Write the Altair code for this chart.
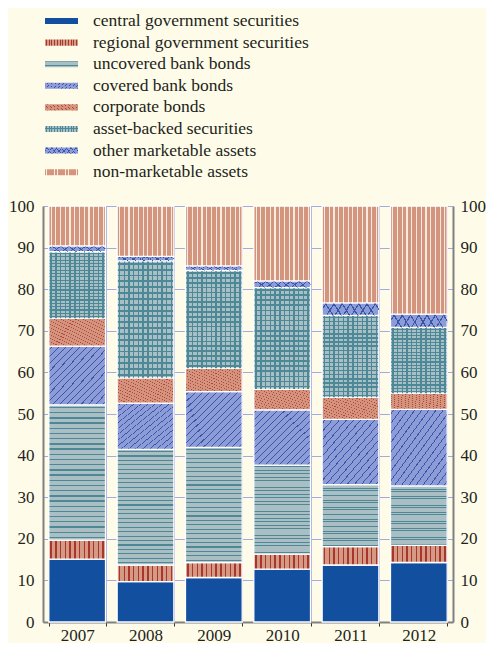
import altair as alt
import pandas as pd

years = ["2007", "2008", "2009", "2010", "2011", "2012"]
series = [
    "central government securities",
    "regional government securities",
    "uncovered bank bonds",
    "covered bank bonds",
    "corporate bonds",
    "asset-backed securities",
    "other marketable assets",
    "non-marketable assets",
]
central = [15.1, 9.7, 10.7, 12.7, 13.7, 14.3]
regional = [4.6, 4.0, 3.6, 3.6, 4.4, 4.1]
uncovered = [32.5, 27.8, 27.7, 21.4, 14.9, 14.3]
covered = [14.1, 11.1, 13.4, 13.3, 15.7, 18.4]
corporate = [6.7, 6.1, 5.6, 5.0, 5.3, 3.9]
asset_backed = [16.0, 28.1, 23.5, 24.4, 19.7, 15.8]
other = [1.4, 1.1, 1.1, 1.6, 3.0, 3.2]
non_marketable = [9.6, 12.1, 14.4, 18.0, 23.3, 26.0]
y_ticks = list(range(0, 101, 10))

values = [central, regional, uncovered, covered, corporate, asset_backed, other, non_marketable]
rows = []
for k, (name, vals) in enumerate(zip(series, values)):
    for yr, v in zip(years, vals):
        rows.append({"year": yr, "series": name, "order": k, "value": v})
df = pd.DataFrame(rows)
leg_df = pd.DataFrame({"series": series, "idx": list(range(len(series)))})

FONT = "Liberation Serif"
FS_AX = 17
FS_LEG = 17.5
TXT = "#231F20"
BG = "#FEFCE9"
GRID = "#A3AAE2"
AXIS = "#808080"
CLEAR = "rgba(0,0,0,0)"


def stripes(base, line, n, frac, x1, y1, x2, y2):
    stops = [alt.GradientStop(offset=0, color=base)]
    for i in range(n):
        a = round((i + 0.5 - frac / 2) / n, 4)
        b = round((i + 0.5 + frac / 2) / n, 4)
        stops += [
            alt.GradientStop(offset=a, color=base),
            alt.GradientStop(offset=a, color=line),
            alt.GradientStop(offset=b, color=line),
            alt.GradientStop(offset=b, color=base),
        ]
    stops.append(alt.GradientStop(offset=1, color=base))
    return alt.LinearGradient(gradient="linear", stops=stops, x1=x1, y1=y1, x2=x2, y2=y2)


fills = {
    series[0]: ["#134F9F"],
    series[1]: [stripes("#D49A85", "#A9362B", 12, 0.3, 0, 0, 1, 0)],
    series[2]: [stripes("#A9BFC4", "#4E8896", 26, 0.25, 0, 0, 0, 1)],
    series[3]: [stripes("#8D9BD6", "#3656AC", 16, 0.15, 0, 0, 1, 1)],
    series[4]: [stripes("#D4937C", "#B4463B", 16, 0.15, 0, 1, 1, 0)],
    series[5]: [stripes("#A7BFC5", "#4C8896", 20, 0.33, 0, 0, 0, 1),
                stripes(CLEAR, "#4C8896", 12, 0.3, 0, 0, 1, 0)],
    series[6]: [stripes("#8D9BD6", "#3656AC", 7, 0.16, 0, 0, 1, 0.14),
                stripes(CLEAR, "#3656AC", 7, 0.16, 0, 0.14, 1, 0)],
    series[7]: [stripes("#D4957E", "#F6EADF", 12, 0.25, 0, 0, 1, 0)],
}

x_enc = alt.X(
    "year:N",
    title=None,
    scale=alt.Scale(paddingInner=0.17, paddingOuter=0.085),
    axis=alt.Axis(
        tickBand="extent", grid=True, gridColor=GRID, gridWidth=1,
        domainColor=AXIS, domainWidth=2, tickColor="#333333", tickSize=4,
        labelAngle=0, labelFont=FONT, labelFontSize=FS_AX, labelColor=TXT, labelPadding=1,
    ),
)
y_scale = alt.Scale(domain=[0, 100], nice=False)
left_axis = alt.Axis(
    values=y_ticks, grid=True, gridColor=GRID, gridWidth=1, ticks=False, tickSize=0,
    domainColor=AXIS, domainWidth=2, labelFont=FONT, labelFontSize=FS_AX, labelColor=TXT,
    labelPadding=9, title=None,
)
right_axis = alt.Axis(
    values=y_ticks, grid=False, ticks=False, tickSize=0, orient="right",
    domainColor=AXIS, domainWidth=2, labelFont=FONT, labelFontSize=FS_AX, labelColor=TXT,
    labelPadding=7, title=None,
)

base = alt.Chart(df).transform_stack(
    stack="value", groupby=["year"], as_=["v0", "v1"], sort=[alt.SortField("order", "ascending")]
)

layers = []
for name in series:
    for j, f in enumerate(fills[name]):
        if len(layers) == 0:
            ax = left_axis
        elif len(layers) == 1:
            ax = right_axis
        else:
            ax = None
        layers.append(
            base.transform_filter(alt.datum.series == name)
            .mark_bar(fill=f, stroke="#FFFFFF" if j == 0 else CLEAR, strokeWidth=1.3 if j == 0 else 0)
            .encode(
                x=x_enc,
                y=alt.Y("v0:Q", scale=y_scale, axis=ax),
                y2="v1:Q",
            )
        )

main = alt.layer(*layers).resolve_axis(y="independent").properties(width=410, height=416)

# legend
leg_base = alt.Chart(leg_df).transform_calculate(lo="datum.idx - 0.14", hi="datum.idx + 0.14")
leg_scale = alt.Scale(domain=[-0.602, 7.454], reverse=True, nice=False, zero=False)
leg_layers = []
for name in series:
    for j, f in enumerate(fills[name]):
        leg_layers.append(
            leg_base.transform_filter(alt.datum.series == name)
            .mark_rect(fill=f, strokeWidth=0)
            .encode(
                x=alt.value(2), x2=alt.value(35),
                y=alt.Y("lo:Q", scale=leg_scale, axis=None), y2="hi:Q",
            )
        )
leg_text = leg_base.mark_text(
    align="left", baseline="middle", font=FONT, fontSize=FS_LEG, color=TXT
).encode(x=alt.value(50), y=alt.Y("idx:Q", scale=leg_scale, axis=None), text="series:N")
legend = alt.layer(*leg_layers, leg_text).properties(width=410, height=174)

chart = (
    alt.vconcat(legend, main, spacing=15)
    .properties(background=BG, padding=0)
    .configure_view(stroke=None)
)
chart.save("out.html", embed_options={"renderer": "svg", "actions": False})
